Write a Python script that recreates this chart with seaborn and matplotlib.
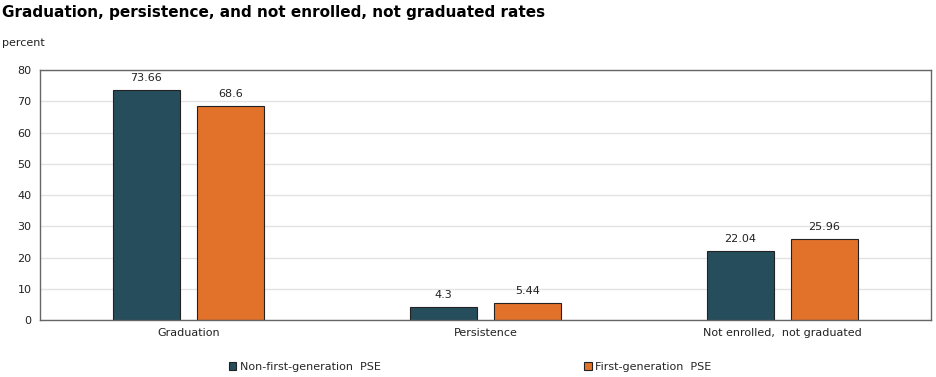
import pandas as pd
import seaborn as sns
import matplotlib.pyplot as plt

# chart data
categories = ['Graduation', 'Persistence', 'Not enrolled,  not graduated']
groups = ['Non-first-generation  PSE', 'First-generation  PSE']
non_first_gen = [73.66, 4.3, 22.04]
first_gen = [68.6, 5.44, 25.96]
value_labels = [['73.66', '4.3', '22.04'], ['68.6', '5.44', '25.96']]

df = pd.DataFrame({
    'category': categories * 2,
    'group': [groups[0]] * 3 + [groups[1]] * 3,
    'value': non_first_gen + first_gen,
})

sns.set_style('white')
plt.rcParams['font.family'] = ['DejaVu Sans']

fig = plt.figure(figsize=(9.36, 3.77), dpi=100)
ax = fig.add_axes([0.0427, 0.1512, 0.952, 0.6631])

sns.barplot(data=df, x='category', y='value', hue='group', order=categories,
            hue_order=groups, palette=['#264d5c', '#e2722a'], width=0.566,
            gap=0.2, edgecolor='#222222', linewidth=0.8, saturation=1,
            ax=ax, legend=True)

# value labels above bars
for cont, labs in zip(ax.containers, value_labels):
    ax.bar_label(cont, labels=labs, padding=5, fontsize=8, color='#222222')

ax.set_ylim(0, 80)
ax.set_yticks(range(0, 90, 10))
ax.yaxis.grid(True, color='#e3e3e3', linewidth=1)
ax.set_axisbelow(True)
ax.set_xlabel('')
ax.set_ylabel('')
ax.tick_params(axis='both', labelsize=8, colors='#222222', length=0, pad=6)
for s in ax.spines.values():
    s.set_color('#666666')
    s.set_linewidth(1)

# legend below the chart
handles, labels = ax.get_legend_handles_labels()
ax.legend_.remove()
fig.legend(handles, labels, loc='lower center', bbox_to_anchor=(0.502, -0.012),
           ncol=2, frameon=False, fontsize=8, handlelength=0.7, handleheight=0.7,
           handletextpad=0.3, columnspacing=18.3)

fig.text(0.002, 0.987, 'Graduation, persistence, and not enrolled, not graduated rates',
         fontsize=11, fontweight='bold', va='top', ha='left', color='black')
fig.text(0.002, 0.885, 'percent', fontsize=8, va='center', ha='left', color='#222222')

plt.savefig('out.png', dpi=100)
